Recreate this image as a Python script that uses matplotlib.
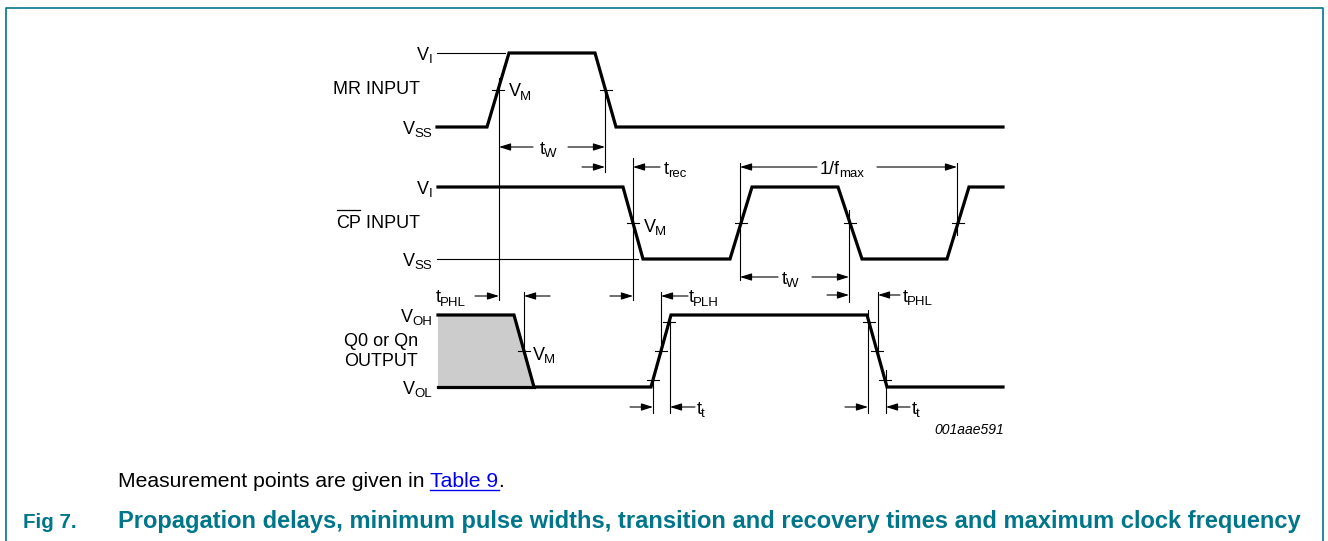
import matplotlib
matplotlib.use('Agg')
import matplotlib.pyplot as plt

plt.rcParams['font.family'] = ['Liberation Sans', 'DejaVu Sans']

TEAL = '#00768a'

# signal rows: (low level y, high level y)
mr_row = (127, 53)
cp_row = (259, 187)
q_row = (387, 315)

# waveform break points: time (x) and logic level
mr_t = [437, 487, 509, 595, 616, 1003]
mr_lv = [0, 0, 1, 1, 0, 0]
cp_t = [438, 623, 643, 730, 752, 838, 862, 947, 969, 1003]
cp_lv = [1, 1, 0, 0, 1, 1, 0, 0, 1, 1]
q_t = [438, 514, 534, 651, 671, 867, 887, 1003]
q_lv = [1, 1, 0, 0, 1, 1, 0, 0]

# measurement ticks: (index of edge start, levels)
mr_ticks = [(1, [0.5]), (3, [0.5])]
cp_ticks = [(1, [0.5]), (3, [0.5]), (5, [0.5]), (7, [0.5])]
q_ticks = [(1, [0.5]), (3, [0.1, 0.5, 0.9]), (5, [0.1, 0.5, 0.9])]

# thin vertical reference lines: (x, y top, y bottom)
guides = [(499, 78, 300), (605, 87, 172), (633, 158, 300), (740, 163, 280),
          (849, 210, 302), (957, 163, 235), (524, 292, 353), (661, 292, 353),
          (878, 292, 353), (653, 375, 413), (670, 320, 413), (868, 310, 413),
          (886, 370, 413)]

# dimension arrows: (tail x, tip x, y)
arrows = [(533, 499, 147), (568, 605, 147), (582, 605, 167), (660, 633, 167),
          (817, 740, 167), (877, 957, 167), (778, 740, 277), (812, 849, 277),
          (827, 849, 295), (900, 878, 295), (475, 499, 296), (550, 524, 296),
          (610, 633, 296), (688, 661, 296), (630, 653, 407), (695, 670, 407),
          (845, 868, 407), (910, 886, 407)]

# labels: (x, y centre, main, subscript, align)
labels = [(432, 53, 'V', 'I', 'right'), (432, 127, 'V', 'SS', 'right'),
          (509, 90, 'V', 'M', 'left'), (540, 147, 't', 'W', 'left'),
          (664, 167, 't', 'rec', 'left'), (820, 167, '1/f', 'max', 'left'),
          (432, 187, 'V', 'I', 'right'), (432, 259, 'V', 'SS', 'right'),
          (644, 225, 'V', 'M', 'left'), (782, 277, 't', 'W', 'left'),
          (903, 295, 't', 'PHL', 'left'), (436, 296, 't', 'PHL', 'left'),
          (689, 296, 't', 'PLH', 'left'), (432, 315, 'V', 'OH', 'right'),
          (432, 387, 'V', 'OL', 'right'), (533, 353, 'V', 'M', 'left'),
          (697, 407, 't', 't', 'left'), (912, 407, 't', 't', 'left')]

fig = plt.figure(figsize=(13.28, 5.41), dpi=100)
ax = fig.add_axes([0, 0, 1, 1])
ax.set_xlim(0, 1328)
ax.set_ylim(541, 0)
ax.axis('off')
r = fig.canvas.get_renderer()


def ys(row, lv):
    lo, hi = row
    return [lo + v * (hi - lo) for v in lv]


def wave(row, t, lv, ticks):
    ax.plot(t, ys(row, lv), color='k', lw=2.3, solid_joinstyle='miter')
    lo, hi = row
    for i, levels in ticks:
        for f in levels:
            x = t[i] + (f - lv[i]) / (lv[i + 1] - lv[i]) * (t[i + 1] - t[i])
            y = lo + f * (hi - lo)
            ax.plot([x - 6, x + 6], [y, y], color='k', lw=0.8)


def label(x, y, main, sub='', ha='left', size=13, subsize=9.5):
    base = y + 6.5
    if ha == 'left':
        t = ax.text(x, base, main, ha='left', va='baseline', fontsize=size)
        w = t.get_window_extent(renderer=r).width - 1
        if sub:
            ax.text(x + w, base + 3.5, sub, ha='left', va='baseline', fontsize=subsize)
    else:
        w = 0
        if sub:
            s = ax.text(x, base + 3.5, sub, ha='right', va='baseline', fontsize=subsize)
            w = s.get_window_extent(renderer=r).width - 1
        ax.text(x - w, base, main, ha='right', va='baseline', fontsize=size)


# frame
ax.plot([6, 6, 1323, 1323], [541, 8, 8, 541], color=TEAL, lw=1.2)

# reference lines
ax.plot([437, 505], [53, 53], color='k', lw=0.8)
ax.plot([437, 638], [259, 259], color='k', lw=0.8)

# shaded undefined output state
ax.fill(q_t[:3] + [q_t[0]], ys(q_row, q_lv[:3] + [0]), color='#cccccc', lw=0)
ax.plot([q_t[0], q_t[2]], [q_row[0], q_row[0]], color='k', lw=2.3)

wave(mr_row, mr_t, mr_lv, mr_ticks)
wave(cp_row, cp_t, cp_lv, cp_ticks)
wave(q_row, q_t, q_lv, q_ticks)

for x, y0, y1 in guides:
    ax.plot([x, x], [y0, y1], color='k', lw=0.8)

for tail, tip, y in arrows:
    ax.annotate('', xy=(tip, y), xytext=(tail, y),
                arrowprops=dict(arrowstyle='-|>,head_length=0.7,head_width=0.22',
                                color='k', lw=0.8, shrinkA=0, shrinkB=0,
                                mutation_scale=10))

for x, y, m, s, ha in labels:
    label(x, y, m, s, ha)

# signal names
ax.text(420, 94.5, 'MR INPUT', ha='right', va='baseline', fontsize=13)
t = ax.text(420, 228.5, ' INPUT', ha='right', va='baseline', fontsize=13)
w = t.get_window_extent(renderer=r).width
cp = ax.text(420 - w, 228.5, 'CP', ha='right', va='baseline', fontsize=13)
bb = cp.get_window_extent(renderer=r)
ax.plot([bb.x0 + 1, bb.x1 - 1], [210, 210], color='k', lw=0.9)
ax.text(381, 346.5, 'Q0 or Qn', ha='center', va='baseline', fontsize=13)
ax.text(381, 366.5, 'OUTPUT', ha='center', va='baseline', fontsize=13)

ax.text(1004, 434, '001aae591', ha='right', va='baseline', fontsize=10, style='italic')

# caption
t = ax.text(118, 487, 'Measurement points are given in ', ha='left', va='baseline', fontsize=15.2)
x = 118 + t.get_window_extent(renderer=r).width
t = ax.text(x, 487, 'Table 9', ha='left', va='baseline', fontsize=15.2, color='#0000ee')
w = t.get_window_extent(renderer=r).width
ax.plot([x, x + w], [490, 490], color='#0000ee', lw=1)
ax.text(x + w, 487, '.', ha='left', va='baseline', fontsize=15.2)

ax.text(23, 528, 'Fig 7.', ha='left', va='baseline', fontsize=14.8,
        fontweight='bold', color=TEAL)
ax.text(118, 528, 'Propagation delays, minimum pulse widths, transition and recovery '
        'times and maximum clock frequency', ha='left', va='baseline', fontsize=17,
        fontweight='bold', color=TEAL)

fig.savefig('out.png', dpi=100)
